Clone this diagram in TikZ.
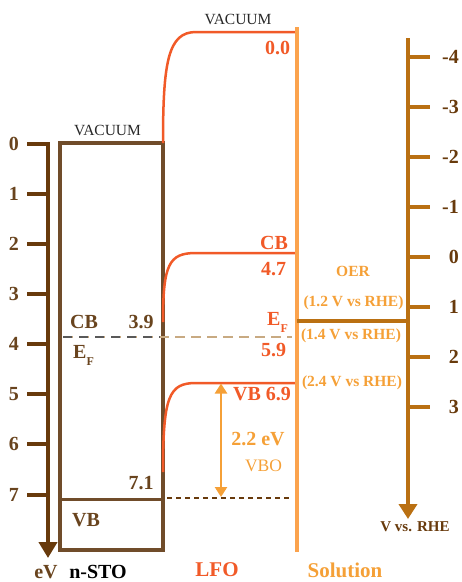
\documentclass[tikz,border=0pt]{standalone}
\usepackage{fontspec}
\setmainfont{Liberation Serif}
\usetikzlibrary{arrows.meta}
\definecolor{axisbrown}{RGB}{104,58,12}
\definecolor{boxbrown}{RGB}{112,76,42}
\definecolor{stotext}{RGB}{105,68,30}
\definecolor{lfored}{RGB}{241,90,40}
\definecolor{solorange}{RGB}{251,163,77}
\definecolor{oertext}{RGB}{245,160,55}
\definecolor{rhebrown}{RGB}{186,112,18}
\definecolor{tanline}{RGB}{200,170,130}
\definecolor{vacgray}{RGB}{40,40,40}
\newcommand{\EFlabel}{E\raisebox{-0.38em}{\fontsize{12}{12}\selectfont F}}
\begin{document}
\begin{tikzpicture}[x=1pt,y=-1pt,
  big/.style={font=\fontsize{20}{24}\selectfont\bfseries, inner sep=0pt},
  mid/.style={font=\fontsize{15.5}{18}\selectfont\bfseries, inner sep=0pt},
  vac/.style={font=\fontsize{15.5}{18}\selectfont, text=vacgray, inner sep=0pt},
  curve/.style={lfored, line width=2.5pt},
  tick/.style={line width=4pt}]
\path[use as bounding box] (0,0) rectangle (462,582);

% ---- left eV axis
\coordinate (laxtop) at (48,142);
\coordinate (laxend) at (48,558);
\draw[axisbrown, line width=4pt, -{Triangle[width=18pt,length=16pt]}] (laxtop) -- (laxend);
\foreach \i in {0,...,7}{
  \draw[axisbrown, tick] (27,{143.8+50.1*\i}) -- (49,{143.8+50.1*\i});
  \node[big, text=stotext] (l\i) at (14,{143.8+50.1*\i}) {\i};
}
\node[big, text=stotext] (ev) at (46,572) {eV};

% ---- n-STO box
\draw[boxbrown, line width=4pt] (60,143) rectangle (163,550);
\draw[boxbrown, line width=3pt] (60,499) -- (165,499);
\node[vac] (vac1) at (107.5,130.5) {VACUUM};
\node[big, text=stotext] (stocb) at (84,322) {CB};
\node[big, text=stotext] (sto39) at (141,322) {3.9};
\node[big, text=stotext, anchor=base west] (stoef) at (73,358) {\EFlabel};
\node[big, text=stotext] (sto71) at (141,483) {7.1};
\node[big, text=stotext] (stovb) at (86,520) {VB};
\node[big, text=black] (sto) at (98,572) {n-STO};

% ---- Fermi level and VB offset lines
\draw[tanline, line width=2pt, dash pattern=on 10pt off 6pt] (63,337) -- (292,337);
\draw[black!65, line width=2pt, dash pattern=on 9pt off 7pt] (63,337) -- (160,337);
\draw[axisbrown, line width=2pt, dash pattern=on 5pt off 4pt] (167,498) -- (290,498);

% ---- LFO bands
\draw[curve] (163,143) .. controls (163,62) and (168,32) .. (196,32) -- (297,32);
\draw[curve] (163,322) .. controls (163,264) and (169,253) .. (196,253) -- (297,253);
\draw[curve] (163,472) .. controls (163,396) and (169,383) .. (196,383) -- (297,383);
\node[vac] (vac2) at (238,19) {VACUUM};
\node[big, text=lfored] (v00) at (277.5,47.5) {0.0};
\node[big, text=lfored] (lfocb) at (274,243) {CB};
\node[big, text=lfored] (l47) at (273.5,269) {4.7};
\node[big, text=lfored, anchor=base west] (lfoef) at (267,325) {\EFlabel};
\node[big, text=lfored] (l59) at (273.5,350) {5.9};
\node[big, text=lfored] (lvb) at (262,394.5) {VB 6.9};
\coordinate (vbotop) at (221,383.5);
\coordinate (vbobot) at (221,497);
\draw[oertext, line width=2.5pt, {Triangle[width=12pt,length=10pt]}-{Triangle[width=12pt,length=10pt]}] (vbotop) -- (vbobot);
\node[big, text=oertext] (vbo) at (258,439.5) {2.2 eV};
\node[font=\fontsize{17.5}{20}\selectfont, text=oertext, inner sep=0pt] (vbot) at (263.5,466) {VBO};
\node[big, text=lfored, font=\fontsize{21}{24}\selectfont\bfseries] (lfo) at (217,570) {LFO};

% ---- solution
\coordinate (soltop) at (297,27);
\coordinate (solbot) at (297,552);
\draw[solorange, line width=4pt] (soltop) -- (solbot);
\node[big, text=oertext, font=\fontsize{21}{24}\selectfont\bfseries] (sol) at (345,570) {Solution};
\coordinate (oerl) at (297,321);
\coordinate (oerr) at (408,321);
\draw[rhebrown, line width=3.5pt] (oerl) -- (oerr);
\node[mid, text=oertext] (oer) at (353,271) {OER};
\node[mid, text=oertext] (o12) at (353.5,303) {(1.2 V vs RHE)};
\node[mid, text=oertext] (o14) at (351,336) {(1.4 V vs RHE)};
\node[mid, text=oertext] (o24) at (352,383) {(2.4 V vs RHE)};

% ---- right RHE axis
\coordinate (raxtop) at (408,38);
\coordinate (raxend) at (408,519);
\draw[rhebrown, line width=4pt, -{Triangle[width=18pt,length=15pt]}] (raxtop) -- (raxend);
\foreach \i in {-4,...,3}{
  \draw[rhebrown, tick] (406,{257+50.1*\i}) -- (430,{257+50.1*\i});
  \node[big, text=axisbrown, anchor=east] at (459,{257+50.1*\i}) {\i};
}
\node[mid, text=axisbrown, font=\fontsize{15}{18}\selectfont\bfseries] (rhe) at (415,527) {V vs. RHE};
\end{tikzpicture}
\end{document}
